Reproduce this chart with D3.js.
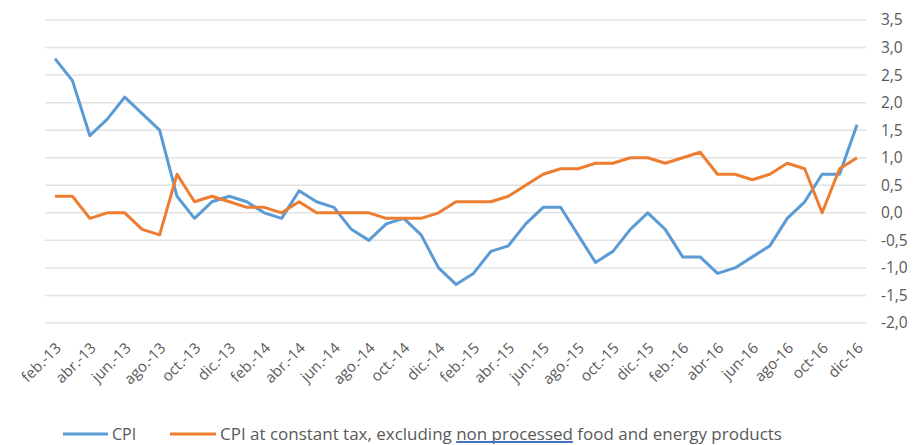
<!DOCTYPE html>
<html>
<head>
<meta charset="utf-8">
<script src="https://cdn.jsdelivr.net/npm/d3@7"></script>
<style>
  html, body { margin: 0; padding: 0; background: #ffffff; }
  svg { display: block; }
  text { font-family: "Open Sans", "Noto Sans", sans-serif; fill: #595959; }
</style>
</head>
<body>
<svg id="chart" width="918" height="445"></svg>
<script>
// ---- data ----
const months = [
  "feb.-13","mar.-13","abr.-13","may.-13","jun.-13","jul.-13","ago.-13","sep.-13","oct.-13","nov.-13","dic.-13",
  "ene.-14","feb.-14","mar.-14","abr.-14","may.-14","jun.-14","jul.-14","ago.-14","sep.-14","oct.-14","nov.-14","dic.-14",
  "ene.-15","feb.-15","mar.-15","abr.-15","may.-15","jun.-15","jul.-15","ago.-15","sep.-15","oct.-15","nov.-15","dic.-15",
  "ene.-16","feb.-16","mar.-16","abr-16","may-16","jun-16","jul-16","ago-16","sep-16","oct-16","nov-16","dic-16"
];
const cpi = [
  2.8, 2.4, 1.4, 1.7, 2.1, 1.8, 1.5, 0.3, -0.1, 0.2, 0.3,
  0.2, 0.0, -0.1, 0.4, 0.2, 0.1, -0.3, -0.5, -0.2, -0.1, -0.4, -1.0,
  -1.3, -1.1, -0.7, -0.6, -0.2, 0.1, 0.1, -0.4, -0.9, -0.7, -0.3, 0.0,
  -0.3, -0.8, -0.8, -1.1, -1.0, -0.8, -0.6, -0.1, 0.2, 0.7, 0.7, 1.6
];
const coreCpi = [
  0.3, 0.3, -0.1, 0.0, 0.0, -0.3, -0.4, 0.7, 0.2, 0.3, 0.2,
  0.1, 0.1, 0.0, 0.2, 0.0, 0.0, 0.0, 0.0, -0.1, -0.1, -0.1, 0.0,
  0.2, 0.2, 0.2, 0.3, 0.5, 0.7, 0.8, 0.8, 0.9, 0.9, 1.0, 1.0,
  0.9, 1.0, 1.1, 0.7, 0.7, 0.6, 0.7, 0.9, 0.8, 0.0, 0.8, 1.0
];
const yTicks = [3.5, 3.0, 2.5, 2.0, 1.5, 1.0, 0.5, 0.0, -0.5, -1.0, -1.5, -2.0];
const xTickLabels = months.filter((m, i) => i % 2 === 0);
const seriesNames = ["CPI", "CPI at constant tax, excluding non processed food and energy products"];
const seriesColors = ["#5B9BD5", "#ED7D31"];

// ---- layout ----
const svg = d3.select("#chart");
const x = d3.scalePoint().domain(months).range([55, 857]);
const y = d3.scaleLinear().domain([-2, 3.5]).range([323, 20]);
const gridX0 = 45, gridX1 = 866;

// gridlines
svg.append("g").selectAll("line").data(yTicks).join("line")
  .attr("x1", gridX0).attr("x2", gridX1)
  .attr("y1", d => y(d)).attr("y2", d => y(d))
  .attr("stroke", "#e3e3e3").attr("stroke-width", 1.5);

// right axis labels
const fmt = d => d3.format(".1f")(d).replace(".", ",").replace("−", "-");
const yAxis = d3.axisRight(y).tickValues(yTicks).tickSize(0).tickPadding(0).tickFormat(fmt);
const gy = svg.append("g").attr("transform", "translate(881,0)").call(yAxis);
gy.select(".domain").remove();
gy.selectAll("text").attr("font-size", 15.5).attr("fill", "#595959")
  .style("font-family", '"Open Sans", "Noto Sans", sans-serif');

// bottom axis labels (rotated)
const xAxis = d3.axisBottom(x).tickValues(xTickLabels).tickSize(0).tickPadding(0);
const gx = svg.append("g").call(xAxis);
gx.select(".domain").remove();
gx.selectAll(".tick").attr("transform", d => `translate(${x(d) + 7},349)`);
gx.selectAll("text")
  .attr("x", 0).attr("y", 0).attr("dy", 0)
  .attr("text-anchor", "end")
  .attr("transform", "rotate(-45)")
  .attr("font-size", 15).attr("fill", "#595959")
  .style("font-family", '"Open Sans", "Noto Sans", sans-serif');

// lines
const line = d3.line().x((d, i) => x(months[i])).y(d => y(d));
[cpi, coreCpi].forEach((s, k) => {
  svg.append("path").datum(s)
    .attr("d", line)
    .attr("fill", "none")
    .attr("stroke", seriesColors[k])
    .attr("stroke-width", 3)
    .attr("stroke-linejoin", "round");
});

// legend
const legY = 434;
const lg = svg.append("g");
lg.append("line").attr("x1", 63).attr("x2", 108).attr("y1", legY).attr("y2", legY)
  .attr("stroke", seriesColors[0]).attr("stroke-width", 3);
lg.append("text").attr("x", 112).attr("y", legY + 5.5).attr("font-size", 16).text(seriesNames[0]);
lg.append("line").attr("x1", 170).attr("x2", 216).attr("y1", legY).attr("y2", legY)
  .attr("stroke", seriesColors[1]).attr("stroke-width", 3);
const t2 = lg.append("text").attr("x", 220).attr("y", legY + 5.5).attr("font-size", 16);
const parts = seriesNames[1].split("non processed");
t2.append("tspan").text(parts[0]);
t2.append("tspan").text("non processed");
t2.append("tspan").text(parts[1]);
// fit legend text width to target
const targetW = 562;
const w = t2.node().getComputedTextLength();
t2.attr("font-size", 16 * targetW / w);
// underline under "non processed"
const start = t2.node().getSubStringLength(0, parts[0].length);
const len = t2.node().getSubStringLength(parts[0].length, "non processed".length);
lg.append("line").attr("x1", 220 + start).attr("x2", 220 + start + len)
  .attr("y1", legY + 8).attr("y2", legY + 8)
  .attr("stroke", "#4472C4").attr("stroke-width", 2);
</script>
</body>
</html>
